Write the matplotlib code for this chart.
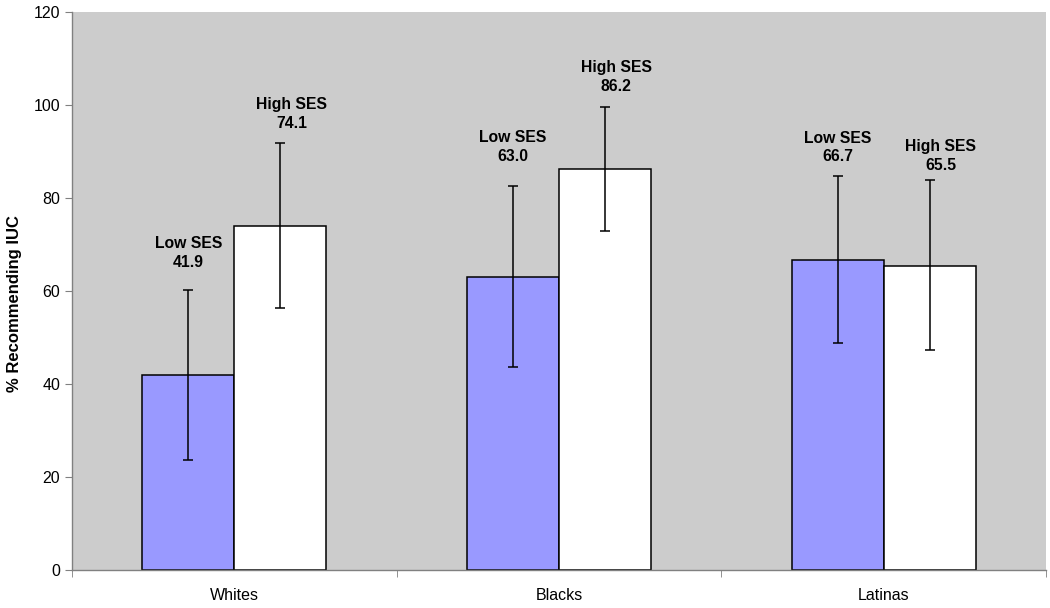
import matplotlib.pyplot as plt
import numpy as np

plt.rcParams['font.family'] = ['Liberation Sans', 'DejaVu Sans']

groups = ['Whites', 'Blacks', 'Latinas']
low_ses = [41.9, 63.0, 66.7]
high_ses = [74.1, 86.2, 65.5]
low_err_lo = [23.6, 43.6, 48.9]
low_err_hi = [60.2, 82.6, 84.7]
high_err_lo = [56.4, 73.0, 47.3]
high_err_hi = [91.9, 99.6, 84.0]
# heights of the value labels (centre of the two lines)
low_label_y = [68.2, 91.0, 90.9]
high_label_y = [98.1, 106.1, 89.1]

fig = plt.figure(figsize=(10.5, 6.08), dpi=100)
ax = fig.add_axes([0.0686, 0.0625, 0.9276, 0.9175])
ax.set_facecolor('#CCCCCC')

x = np.arange(len(groups))
w = 0.283
low = np.array(low_ses)
high = np.array(high_ses)

ax.bar(x - w / 2, low, w, color='#9999FF', edgecolor='black', linewidth=1.1, zorder=2)
ax.bar(x + w / 2, high, w, color='white', edgecolor='black', linewidth=1.1, zorder=2)

ax.errorbar(x - w / 2, low, yerr=[low - np.array(low_err_lo), np.array(low_err_hi) - low],
            fmt='none', ecolor='black', elinewidth=1.1, capsize=3.5, capthick=1.1, zorder=3)
ax.errorbar(x + w / 2, high, yerr=[high - np.array(high_err_lo), np.array(high_err_hi) - high],
            fmt='none', ecolor='black', elinewidth=1.1, capsize=3.5, capthick=1.1, zorder=3)

for i in range(len(groups)):
    ax.annotate(f'Low SES\n{low_ses[i]:.1f}', (x[i] - w / 2, low_label_y[i]),
                ha='center', va='center', fontsize=11.3, fontweight='bold', linespacing=1.3)
    ax.annotate(f'High SES\n{high_ses[i]:.1f}', (x[i] + w / 2, high_label_y[i]),
                xytext=(8, 0), textcoords='offset points',
                ha='center', va='center', fontsize=11.3, fontweight='bold', linespacing=1.3)

ax.set_xlim(-0.5, 2.5)
ax.set_ylim(0, 120)
ax.set_yticks(range(0, 121, 20))
ax.set_xticks(x)
ax.set_xticklabels(groups, fontsize=11.5)
ax.set_xticks([-0.5, 0.5, 1.5, 2.5], minor=True)
ax.tick_params(axis='x', which='major', length=0, pad=13)
ax.tick_params(axis='x', which='minor', length=5, color='#808080')
ax.tick_params(axis='y', length=5, color='#808080', labelsize=11.5)
ax.set_ylabel('% Recommending IUC', fontsize=12, fontweight='bold')
ax.yaxis.set_label_coords(-0.051, 0.477)

for s in ['top', 'right']:
    ax.spines[s].set_visible(False)
for s in ['left', 'bottom']:
    ax.spines[s].set_color('#808080')
    ax.spines[s].set_linewidth(1.0)

plt.savefig('out.png', dpi=100)
plt.close()
